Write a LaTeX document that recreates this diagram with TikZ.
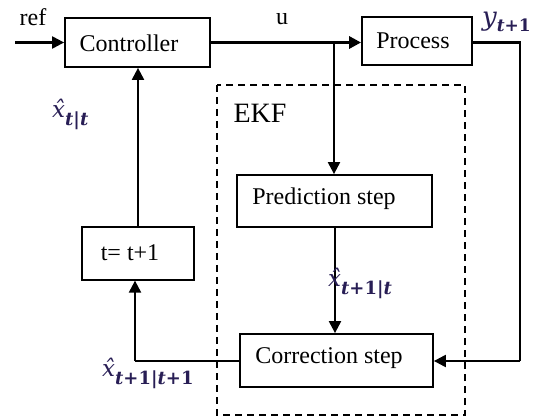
\documentclass[tikz,border=0pt]{standalone}
\usepackage{fontspec}
\setmainfont{Liberation Serif}
\newfontfamily\lblfont{DejaVu Serif}
\usetikzlibrary{arrows.meta}
\definecolor{mathcol}{RGB}{40,30,85}
\newcommand{\lt}{\textit{t}}
\newcommand{\lblsub}[1]{\raisebox{-8pt}{\fontsize{18}{20}\selectfont\bfseries #1}}
\newcommand{\lblx}[1]{{\fontsize{23}{26}\selectfont\itshape\^{x}}\lblsub{#1}}
\begin{document}
\begin{tikzpicture}[x=1pt,y=-1pt,
  blk/.style={draw,line width=1.8pt,inner sep=0pt},
  txt/.style={font=\fontsize{24}{26}\selectfont,inner sep=0pt},
  mlab/.style={font=\lblfont,text=mathcol,inner sep=0pt},
  con/.style={line width=2.2pt},
  arr/.style={con,-{Triangle[length=12pt,width=12pt]}}]
\useasboundingbox (0,0) rectangle (539,417);
% blocks
\node[blk,minimum width=145pt,minimum height=49pt] (ctrl) at (137.5,42.5) {};
\node[txt] (ctrlt) at (129,43) {Controller};
\node[blk,minimum width=110pt,minimum height=48pt] (proc) at (417,41) {};
\node[txt] (proct) at (413,41) {Process};
\node[blk,minimum width=195pt,minimum height=52pt] (pred) at (334.5,201) {};
\node[txt] (predt) at (324,199) {Prediction step};
\node[blk,minimum width=193pt,minimum height=53pt] (corr) at (336.5,360.5) {};
\node[txt] (corrt) at (329,358) {Correction step};
\node[blk,line width=1.3pt,minimum width=112pt,minimum height=53pt] (tt) at (138,253.5) {};
\node[txt] (ttt) at (130,253) {t= t+1};
% dashed EKF box
\draw[line width=1.5pt,dash pattern=on 7pt off 5pt] (217,85) rectangle (465,415);
\node[font=\fontsize{28}{30}\selectfont,inner sep=0pt] (ekf) at (260,113) {EKF};
% coordinates
\coordinate (refs) at (15,42.5);
\coordinate (br) at (334,42.5);
\coordinate (pr) at (520,42.5);
\coordinate (pc) at (520,361);
\coordinate (cl) at (135,361);
% connectors
\draw[arr] (refs) -- (ctrl.west);
\draw[line width=3.5pt] (ctrl.east) -- (br);
\draw[arr,line width=3pt] (br) -- (proc.west |- br);
\draw[arr] (br) -- (br |- pred.north);
\draw[arr] (pred.south -| 335,0) -- (corr.north -| 335,0);
\draw[con] (proc.east |- pr) -- (pr) -- (pc);
\draw[arr] (pc) -- (corr.east |- pc);
\draw[con] (corr.west |- cl) -- (cl);
\draw[arr] (cl) -- (tt.south -| cl);
\draw[arr] (tt.north) -- (ctrl.south -| tt.north);
% labels
\node[txt] (ref) at (33,17) {ref};
\node[txt] (u) at (282,19) {u};
\node[mlab,anchor=base west] (y) at (482,26) {{\fontsize{26}{28}\selectfont\itshape y}\raisebox{-6pt}{\fontsize{17}{20}\selectfont\bfseries\lt+1}};
\node[mlab,anchor=base west] (xtt) at (52,118) {\lblx{\lt|\lt}};
\node[mlab,anchor=base west] (xp) at (328,287) {\lblx{\lt+1|\lt}};
\node[mlab,anchor=base west] (xc) at (102,377) {\lblx{\lt+1|\lt+1}};
\end{tikzpicture}
\end{document}
